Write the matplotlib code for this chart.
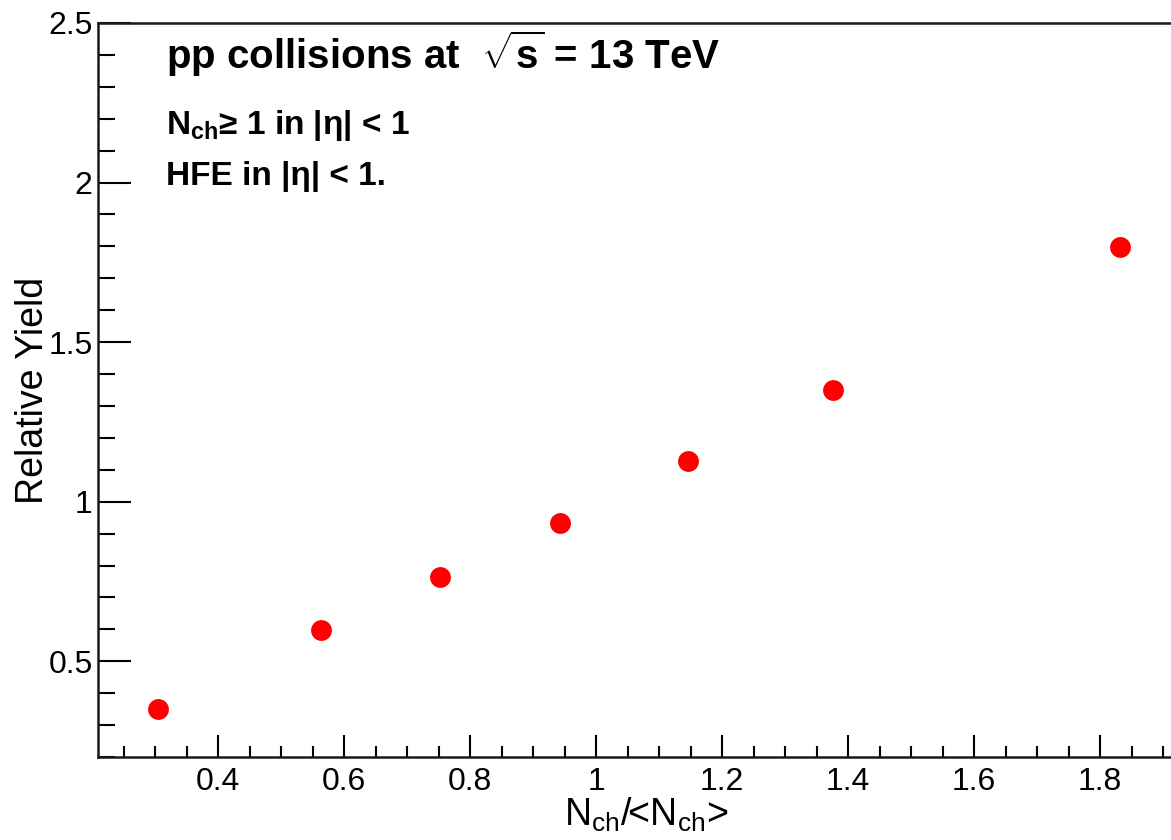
import numpy as np
import matplotlib
matplotlib.use("Agg")
import matplotlib.pyplot as plt
from matplotlib.ticker import MultipleLocator, FuncFormatter

# -------- data -----------------------------------
nch_ratio = [0.305, 0.564, 0.752, 0.943, 1.146, 1.376, 1.832]
rel_yield = [0.349, 0.597, 0.764, 0.933, 1.128, 1.350, 1.799]

x_ticks = [0.4, 0.6, 0.8, 1.0, 1.2, 1.4, 1.6, 1.8]
y_ticks = [0.5, 1.0, 1.5, 2.0, 2.5]
# -------------------------------------------------

plt.rcParams["font.family"] = ["Liberation Sans", "DejaVu Sans"]
plt.rcParams["mathtext.fontset"] = "custom"
plt.rcParams["mathtext.rm"] = "Liberation Sans"
plt.rcParams["mathtext.it"] = "Liberation Sans:italic"
plt.rcParams["mathtext.bf"] = "Liberation Sans:bold"

W, H = 1171, 840
fig = plt.figure(figsize=(W / 100, H / 100), dpi=100)

# frame: left spine at ~98 px, bottom at 757 px, top at 23 px; right edge falls outside the image
x0, x1 = 0.21, 1.95
left_px, bottom_px, top_px = 98.3, 757, 23
right_px = left_px + (x1 - x0) * 630
ax = fig.add_axes([left_px / W, (H - bottom_px) / H,
                   (right_px - left_px) / W, (bottom_px - top_px) / H])

ax.plot(nch_ratio, rel_yield, linestyle="none", marker="o", markersize=15,
        color="#ff0000", markeredgewidth=0, clip_on=False)

ax.set_xlim(x0, x1)
ax.set_ylim(0.2, 2.5)

fmt = FuncFormatter(lambda v, p: f"{v:g}")
ax.set_xticks(x_ticks)
ax.set_yticks(y_ticks)
ax.xaxis.set_major_formatter(fmt)
ax.yaxis.set_major_formatter(fmt)
ax.xaxis.set_minor_locator(MultipleLocator(0.05))
ax.yaxis.set_minor_locator(MultipleLocator(0.1))

ax.tick_params(axis="both", which="both", direction="in", colors="black",
               top=False, right=False, labelsize=23, width=1.5)
ax.tick_params(axis="x", which="major", length=16, pad=7)
ax.tick_params(axis="x", which="minor", length=8)
ax.tick_params(axis="y", which="major", length=24, pad=4)
ax.tick_params(axis="y", which="minor", length=12)

for s in ax.spines.values():
    s.set_linewidth(1.8)
    s.set_color("#1a1a1a")

axw_px = right_px - left_px
ax.set_ylabel("Relative Yield", fontsize=27)
ax.yaxis.set_label_coords((51 - left_px) / axw_px, 0.5)
ax.set_xlabel(r"N$_{\mathrm{ch}}$/<N$_{\mathrm{ch}}$>", fontsize=27, labelpad=-1)

# annotation block
tx = 166 / W
fig.text(tx, 1 - 69 / H, r"pp collisions at  $\sqrt{\mathbf{s}}$ = 13 TeV",
         fontsize=29, fontweight="bold", va="baseline")
fig.text(tx, 1 - 134 / H, r"N$_{\mathbf{ch}}$≥ 1 in |η| < 1",
         fontsize=24, fontweight="bold", va="baseline")
fig.text(tx, 1 - 185 / H, "HFE in |η| < 1.",
         fontsize=24, fontweight="bold", va="baseline")

fig.savefig("out.png", dpi=100)
